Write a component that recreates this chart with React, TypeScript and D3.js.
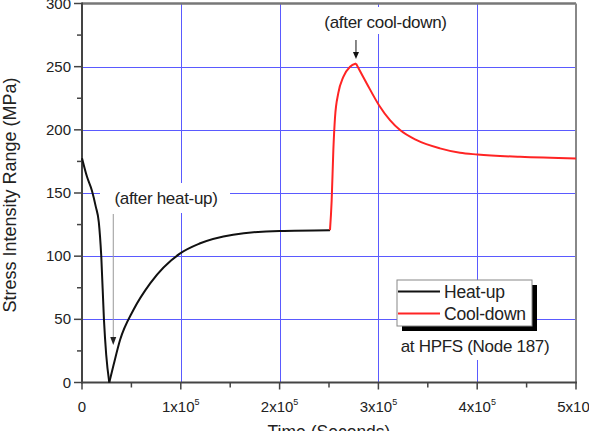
import * as d3 from "d3";

// heat-up transient (black) and cool-down transient (red), time in seconds, stress in MPa
const heatTime = [0, 5000, 10000, 14000, 17000, 19500, 22200, 24500, 27600, 32000, 38500, 52000, 69000, 99000, 119000, 153000, 200000, 251000];
const heatStress = [177.6, 163, 152, 139, 127, 100, 50, 22, 0, 14, 33.6, 57.4, 78.5, 102, 110, 117, 120, 120.6];

const coolTime = [251000, 252700, 254400, 256100, 259400, 264500, 271300, 277300, 288200, 300600, 311700, 321900, 338800, 362300, 382600, 400100, 443300, 500000];
const coolStress = [120.6, 144, 184, 210, 229, 242, 250, 252.5, 236.7, 219.5, 207.7, 199.8, 191.8, 185.3, 181.8, 180.5, 178.6, 177.4];

const xTicks = [0, 100000, 200000, 300000, 400000, 500000];
const yTicks = [0, 50, 100, 150, 200, 250, 300];

const legendItems = [
  { label: "Heat-up", color: "#111" },
  { label: "Cool-down", color: "#ff2424" },
];

const font = "'Liberation Sans', Arial, sans-serif";
const textColor = "#222";
const gridColor = "#5a5aff";

type Pt = { t: number; s: number };

// split a series at its turning points so each piece stays monotone
const monotoneRuns = (pts: Pt[]) => {
  const runs: Pt[][] = [];
  let cur: Pt[] = [pts[0]];
  let dir = 0;
  for (let i = 1; i < pts.length; i++) {
    const d = Math.sign(pts[i].s - pts[i - 1].s);
    if (dir !== 0 && d !== 0 && d !== dir) {
      runs.push(cur);
      cur = [pts[i - 1]];
    }
    if (d !== 0) dir = d;
    cur.push(pts[i]);
  }
  runs.push(cur);
  return runs;
};

export default function App() {
  const width = 589;
  const height = 431;

  const xScale = d3.scaleLinear().domain([0, 500000]).range([82, 576]);
  const yScale = d3.scaleLinear().domain([0, 300]).range([382.5, 3.5]);

  const line = d3
    .line<Pt>()
    .x((d) => xScale(d.t))
    .y((d) => yScale(d.s))
    .curve(d3.curveMonotoneX);

  const heat = heatTime.map((t, i) => ({ t, s: heatStress[i] }));
  const cool = coolTime.map((t, i) => ({ t, s: coolStress[i] }));

  const x0 = xScale(0);
  const x1 = xScale(500000);
  const y0 = yScale(0);
  const y1 = yScale(300);

  const minorX = d3.range(50000, 500000, 100000);
  const minorY = d3.range(25, 300, 50);

  const peak = cool[d3.maxIndex(cool, (d) => d.s)];
  const low = heat[d3.minIndex(heat, (d) => d.s)];

  return (
    <svg
      width={width}
      height={height}
      style={{ position: "absolute", left: 0, top: 0, background: "#fff" }}
      fontFamily={font}
    >
      {/* grid */}
      <g stroke={gridColor} strokeWidth={1}>
        {xTicks.slice(1, -1).map((t) => (
          <line key={t} x1={Math.round(xScale(t)) + 0.5} x2={Math.round(xScale(t)) + 0.5} y1={y1} y2={y0} />
        ))}
        {yTicks.slice(1, -1).map((v) => (
          <line key={v} x1={x0} x2={x1} y1={Math.round(yScale(v)) + 0.5} y2={Math.round(yScale(v)) + 0.5} />
        ))}
      </g>

      {/* white backing behind annotations */}
      <g fill="#fff">
        <rect x={100} y={183} width={130} height={30} />
        <rect x={313} y={7} width={146} height={27} />
        <rect x={392} y={330} width={168} height={30} />
      </g>

      {/* frame */}
      <g fill="none">
        <line x1={x0} x2={x1} y1={y1} y2={y1} stroke="#777" strokeWidth={2.5} />
        <line x1={x1} x2={x1} y1={y1} y2={y0} stroke="#888" strokeWidth={2} />
        <line x1={x0} x2={x0} y1={y1 - 1} y2={y0 + 1} stroke="#444" strokeWidth={2} />
        <line x1={x0 - 1} x2={x1 + 1} y1={y0} y2={y0} stroke="#444" strokeWidth={2} />
      </g>

      {/* axis ticks */}
      <g stroke="#444" strokeWidth={1.5}>
        {yTicks.map((v) => (
          <line key={v} x1={x0 - 8} x2={x0} y1={yScale(v)} y2={yScale(v)} />
        ))}
        {minorY.map((v) => (
          <line key={v} x1={x0 - 5} x2={x0} y1={yScale(v)} y2={yScale(v)} />
        ))}
        {xTicks.map((t) => (
          <line key={t} x1={xScale(t)} x2={xScale(t)} y1={y0} y2={y0 + 7} />
        ))}
        {minorX.map((t) => (
          <line key={t} x1={xScale(t)} x2={xScale(t)} y1={y0} y2={y0 + 5} />
        ))}
      </g>

      {/* tick labels */}
      <g fill={textColor} fontSize={15}>
        {yTicks.map((v) => (
          <text key={v} x={x0 - 11} y={yScale(v) + 5} textAnchor="end">
            {v}
          </text>
        ))}
        {xTicks.map((t) => (
          <text key={t} x={xScale(t)} y={411.5} textAnchor="middle">
            {t === 0 ? (
              "0"
            ) : (
              <>
                {`${t / 100000}x10`}
                <tspan fontSize={9} dy={-7}>
                  5
                </tspan>
              </>
            )}
          </text>
        ))}
      </g>

      {/* axis titles */}
      <text
        transform={`translate(16,${(y0 + y1) / 2 + 2}) rotate(-90)`}
        textAnchor="middle"
        fontSize={18}
        fill={textColor}
      >
        Stress Intensity Range (MPa)
      </text>
      <text x={(x0 + x1) / 2} y={438} textAnchor="middle" fontSize={17.5} fill={textColor}>
        Time (Seconds)
      </text>

      {/* curves */}
      <g fill="none" strokeWidth={2} strokeLinejoin="round">
        {monotoneRuns(heat).map((run, i) => (
          <path key={`h${i}`} d={line(run) ?? ""} stroke="#111" />
        ))}
        {monotoneRuns(cool).map((run, i) => (
          <path key={`c${i}`} d={line(run) ?? ""} stroke="#ff2424" />
        ))}
      </g>

      {/* annotations */}
      <text x={166} y={204} textAnchor="middle" fontSize={17} fill={textColor} letterSpacing={-0.3}>
        (after heat-up)
      </text>
      <line x1={xScale(low.t) + 4} x2={xScale(low.t) + 4} y1={214} y2={338} stroke="#999" strokeWidth={1} />
      <path
        d={`M${xScale(low.t) + 1},337 L${xScale(low.t) + 7},337 L${xScale(low.t) + 4},345 Z`}
        fill="#222"
      />

      <text x={385.5} y={28} textAnchor="middle" fontSize={17} fill={textColor} letterSpacing={-0.3}>
        (after cool-down)
      </text>
      <line x1={xScale(peak.t)} x2={xScale(peak.t)} y1={40} y2={53} stroke="#111" strokeWidth={1} />
      <path
        d={`M${xScale(peak.t) - 3},52 L${xScale(peak.t) + 3},52 L${xScale(peak.t)},59 Z`}
        fill="#111"
      />

      {/* legend */}
      <g>
        <rect x={402} y={285} width={135} height={46} fill="#000" />
        <rect x={397} y={280} width={135} height={46} fill="#fff" stroke="#888" strokeWidth={1} />
        {legendItems.map((d, i) => (
          <g key={d.label} transform={`translate(398,${291.5 + i * 22})`}>
            <line x1={0} x2={42} y1={0} y2={0} stroke={d.color} strokeWidth={2} />
            <text x={46} y={6} fontSize={17.5} fill={textColor} letterSpacing={-0.2}>
              {d.label}
            </text>
          </g>
        ))}
      </g>
      <text x={475} y={352} textAnchor="middle" fontSize={17} fill={textColor} letterSpacing={-0.3}>
        at HPFS (Node 187)
      </text>
    </svg>
  );
}
